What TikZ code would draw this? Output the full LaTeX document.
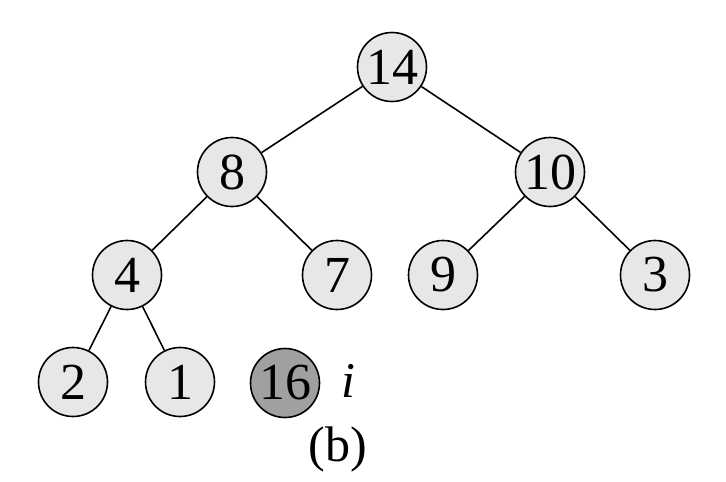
\documentclass[tikz,border=0pt]{standalone}
\usepackage{fontspec}
\setmainfont{Liberation Serif}
\definecolor{nodefill}{HTML}{E6E7E8}
\definecolor{darkfill}{HTML}{A0A0A0}
\begin{document}
\begin{tikzpicture}[x=1pt,y=-1pt,
  hnode/.style={circle,draw=black,line width=1.6pt,fill=nodefill,minimum size=69pt,inner sep=0pt,font=\fontsize{52}{52}\selectfont},
  dnode/.style={hnode,fill=darkfill},
  edge/.style={line width=1.6pt}]
\useasboundingbox (0,0) rectangle (726,482);
\node[hnode] (n14) at (392,67) {14};
\node[hnode] (n8) at (232,172) {8};
\node[hnode] (n10) at (550,172) {10};
\node[hnode] (n4) at (127,275) {4};
\node[hnode] (n7) at (337,275) {7};
\node[hnode] (n9) at (443,275) {9};
\node[hnode] (n3) at (655,275) {3};
\node[hnode] (n2) at (73,382) {2};
\node[hnode] (n1) at (180,382) {1};
\node[dnode] (n16) at (285,383) {16};
\node[font=\fontsize{50}{50}\selectfont\itshape,anchor=base,inner sep=0pt] (li) at (348,397) {i};
\node[font=\fontsize{50}{50}\selectfont,anchor=base,inner sep=0pt] (lb) at (338,461) {(b)};
\draw[edge] (n14) -- (n8);
\draw[edge] (n14) -- (n10);
\draw[edge] (n8) -- (n4);
\draw[edge] (n8) -- (n7);
\draw[edge] (n10) -- (n9);
\draw[edge] (n10) -- (n3);
\draw[edge] (n4) -- (n2);
\draw[edge] (n4) -- (n1);
\end{tikzpicture}
\end{document}
